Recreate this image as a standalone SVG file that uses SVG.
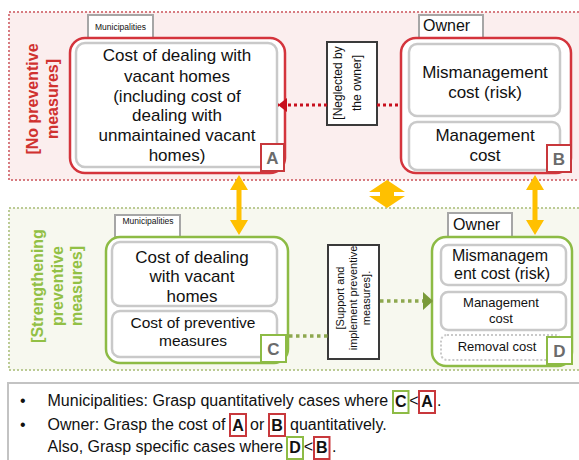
<svg xmlns="http://www.w3.org/2000/svg" width="579" height="460" viewBox="0 0 579 460">
<style>
text{font-family:"Liberation Sans",Arial,sans-serif;fill:#111}
.c{text-anchor:middle}
.tab{fill:#fff;stroke:#a6a6a6;stroke-width:2}
.inner{fill:#fff;stroke:#c9c9c9;stroke-width:2.5}
.redbox{fill:#fff;stroke:#d4343c;stroke-width:2.5}
.grnbox{fill:#fff;stroke:#8dbb45;stroke-width:2.5}
.lblr{fill:#fff;stroke:#c8383c;stroke-width:2}
.lblg{fill:#fff;stroke:#8dbb45;stroke-width:2}
.let{font-size:17px;font-weight:bold;fill:#6b6b6b;text-anchor:middle}
.note{fill:#fff;stroke:#3a3a3a;stroke-width:2}
.arr{fill:#ffc000}
.bt{font-size:16px}
.bb{font-size:16px;font-weight:bold;text-anchor:middle}
</style>
<defs>
<marker id="mr" markerWidth="10" markerHeight="14" refX="9" refY="7" orient="auto" markerUnits="userSpaceOnUse"><path d="M0,0 L9,7 L0,14 Z" fill="#c8101e"/></marker>
<marker id="mg" markerWidth="10" markerHeight="18" refX="10" refY="9" orient="auto" markerUnits="userSpaceOnUse"><path d="M0,0 L10,9 L0,18 Z" fill="#7a9a3a"/></marker>
</defs>
<rect width="579" height="460" fill="#fff"/>
<g id="region-no-preventive">
<rect x="9" y="12" width="600" height="168" fill="#fbeeee" stroke="#d77b80" stroke-width="2" stroke-dasharray="2,2"/>
<text transform="translate(43,99) rotate(-90)" class="c" style="font-size:16px;font-weight:bold;fill:#d0312f"><tspan x="0" y="-5">[No preventive</tspan><tspan x="0" y="15">measures]</tspan></text>
</g>
<g id="region-strengthening">
<rect x="9" y="208" width="600" height="162" fill="#f7f8ef" stroke="#bccb95" stroke-width="2" stroke-dasharray="2,2"/>
<text transform="translate(58,286) rotate(-90)" class="c" style="font-size:16px;font-weight:bold;fill:#92c045"><tspan x="0" y="-15">[Strengthening</tspan><tspan x="0" y="5">preventive</tspan><tspan x="0" y="24">measures]</tspan></text>
</g>
<g id="node-A">
<rect class="tab" x="88" y="15" width="65" height="23"/>
<text x="120.5" y="30" class="c" style="font-size:8.5px">Municipalities</text>
<rect class="redbox" x="70" y="38" width="215" height="135" rx="15"/>
<rect class="inner" x="76" y="43" width="201" height="124" rx="9"/>
<text class="c" style="font-size:17px"><tspan x="177" y="61">Cost of dealing with</tspan><tspan x="177" y="82">vacant homes</tspan><tspan x="177" y="102">(including cost of</tspan><tspan x="177" y="121">dealing with</tspan><tspan x="177" y="141">unmaintained vacant</tspan><tspan x="177" y="161">homes)</tspan></text>
<rect class="lblr" x="261" y="144" width="23" height="27"/>
<text x="272.5" y="164" class="let">A</text>
</g>
<g id="node-neglected">
<rect class="note" x="327" y="42" width="50" height="83"/>
<text transform="translate(352,83) rotate(-90)" class="c" style="font-size:12px"><tspan x="0" y="-10">[Neglected by</tspan><tspan x="0" y="9">the owner]</tspan></text>
</g>
<g id="node-B">
<rect class="tab" x="419" y="15" width="64" height="23"/>
<text x="423" y="31" style="font-size:16px">Owner</text>
<rect class="redbox" x="401" y="38" width="170" height="135" rx="15"/>
<rect class="inner" x="409" y="44" width="151" height="72" rx="8"/>
<text class="c" style="font-size:17px"><tspan x="485" y="78">Mismanagement</tspan><tspan x="485" y="98">cost (risk)</tspan></text>
<rect class="inner" x="409" y="122" width="151" height="48" rx="8"/>
<text class="c" style="font-size:17px"><tspan x="485" y="141">Management</tspan><tspan x="485" y="161">cost</tspan></text>
<rect class="lblr" x="547" y="145" width="24" height="27"/>
<text x="559" y="165" class="let">B</text>
</g>
<g id="node-C">
<rect class="tab" x="115" y="215" width="65" height="22"/>
<text x="148" y="224" class="c" style="font-size:8.5px">Municipalities</text>
<rect class="grnbox" x="106" y="237" width="182" height="126" rx="14"/>
<rect class="inner" x="112" y="242" width="165" height="64" rx="8"/>
<text class="c" style="font-size:17px"><tspan x="192" y="263">Cost of dealing</tspan><tspan x="192" y="282">with vacant</tspan><tspan x="192" y="302">homes</tspan></text>
<rect class="inner" x="112" y="311" width="165" height="46" rx="8"/>
<text class="c" style="font-size:15.5px"><tspan x="193" y="328">Cost of preventive</tspan><tspan x="193" y="346">measures</tspan></text>
<rect class="lblg" x="261" y="335" width="25" height="27"/>
<text x="273.5" y="355" class="let">C</text>
</g>
<g id="node-support">
<rect class="note" x="328" y="245" width="51" height="114"/>
<text transform="translate(353.5,298) rotate(-90)" class="c" style="font-size:11px"><tspan x="0" y="-10">[Support and</tspan><tspan x="0" y="3.5">implement preventive</tspan><tspan x="0" y="16.5">measures].</tspan></text>
</g>
<g id="node-D">
<rect class="tab" x="448" y="213" width="64" height="24"/>
<text x="453" y="230" style="font-size:16px">Owner</text>
<rect class="grnbox" x="432" y="237" width="140" height="129" rx="14"/>
<rect class="inner" x="441" y="245" width="125" height="40" rx="7"/>
<text class="c" style="font-size:16px"><tspan x="500" y="261">Mismanagem</tspan><tspan x="502" y="279">ent cost (risk)</tspan></text>
<rect class="inner" x="441" y="292" width="125" height="38" rx="7"/>
<text class="c" style="font-size:13px"><tspan x="501" y="307">Management</tspan><tspan x="501" y="323">cost</tspan></text>
<rect x="441" y="335" width="120" height="25" rx="6" fill="#fff" stroke="#c9c9c9" stroke-width="2" stroke-dasharray="2,2"/>
<text x="497" y="351" class="c" style="font-size:13px">Removal cost</text>
<rect class="lblg" x="547" y="337" width="25" height="27"/>
<text x="559.5" y="357" class="let">D</text>
</g>
<g id="connectors">
<line x1="327" y1="105" x2="278" y2="105" stroke="#c8101e" stroke-width="3" stroke-dasharray="3,3" marker-end="url(#mr)"/>
<line x1="377" y1="105" x2="401" y2="105" stroke="#c8101e" stroke-width="3" stroke-dasharray="3,3"/>
<line x1="289" y1="336" x2="328" y2="336" stroke="#8ea84f" stroke-width="3.5" stroke-dasharray="3.5,3.5"/>
<line x1="380" y1="301" x2="433" y2="301" stroke="#8ea84f" stroke-width="3.5" stroke-dasharray="3.5,3.5" marker-end="url(#mg)"/>
<polygon class="arr" points="239,175 248,190 241.5,190 241.5,220 248,220 239,235 230,220 236.5,220 236.5,190 230,190"/>
<polygon class="arr" points="535,175 544,190 537.5,190 537.5,220 544,220 535,235 526,220 532.5,220 532.5,190 526,190"/>
<polygon class="arr" points="387,180 405,192 394,192 394,196 405,196 387,208 369,196 380,196 380,192 369,192"/>
</g>
<g id="notes">
<rect x="8" y="383" width="600" height="90" fill="#fff" stroke="#c3c3c3" stroke-width="2"/>
<text x="20" y="406" class="bt">•</text>
<text x="20" y="430" class="bt">•</text>
<text x="47.5" y="406" class="bt">Municipalities: Grasp quantitatively cases where</text>
<rect class="lblg" x="393" y="391" width="15.5" height="22"/>
<text x="400.8" y="407" class="bb">C</text>
<text x="413.8" y="406" class="bt" text-anchor="middle">&lt;</text>
<rect class="lblr" x="419" y="391" width="16" height="22"/>
<text x="427" y="407" class="bb">A</text>
<text x="437" y="406" class="bt">.</text>
<text x="47.5" y="430" class="bt">Owner: Grasp the cost of</text>
<rect class="lblr" x="230" y="414" width="16" height="22"/>
<text x="238" y="431" class="bb">A</text>
<text x="250" y="430" class="bt">or</text>
<rect class="lblr" x="269" y="414" width="16" height="22"/>
<text x="277" y="431" class="bb">B</text>
<text x="290" y="430" class="bt">quantitatively.</text>
<text x="47.5" y="452" class="bt">Also, Grasp specific cases where</text>
<rect class="lblg" x="287" y="437" width="16" height="22"/>
<text x="295" y="453" class="bb">D</text>
<text x="308.5" y="452" class="bt" text-anchor="middle">&lt;</text>
<rect class="lblr" x="314" y="437" width="15.5" height="22"/>
<text x="321.8" y="453" class="bb">B</text>
<text x="332" y="452" class="bt">.</text>
</g>
</svg>
